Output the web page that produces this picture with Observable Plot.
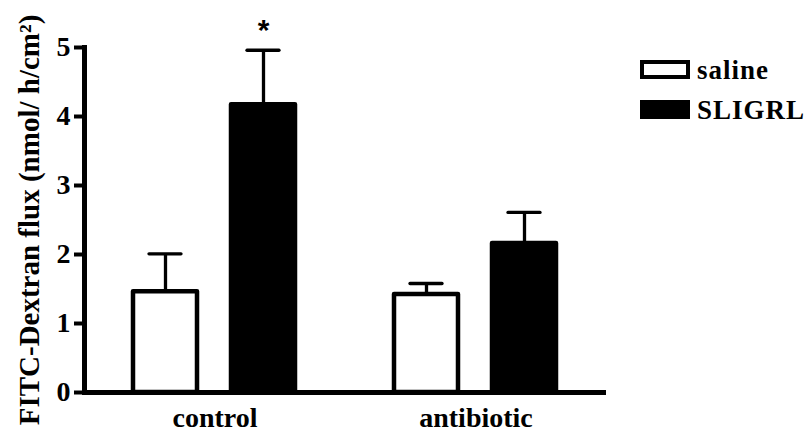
<!DOCTYPE html>
<html><head><meta charset="utf-8">
<script src="https://cdn.jsdelivr.net/npm/d3@7"></script>
<script src="https://cdn.jsdelivr.net/npm/@observablehq/plot@0.6"></script>
<style>
body{margin:0;background:#fff;}
#wrap{position:relative;width:807px;height:432px;}
#legend{position:absolute;left:640px;top:50px;font-family:"Liberation Serif","Times New Roman",serif;font-weight:bold;font-size:27px;color:#000;}
#legend .row{line-height:40px;height:40px;white-space:nowrap;letter-spacing:1px;}
#legend .sw{display:inline-block;width:50px;height:19px;box-sizing:border-box;border:4px solid #000;margin-right:7px;}
</style></head>
<body><div id="wrap"></div>
<script>
const groups = ["control", "antibiotic"];
const treatments = ["saline", "SLIGRL"];
const fills = ["white", "black"];
const controlMeans = [1.46, 4.17];
const antibioticMeans = [1.42, 2.16];
const controlErr = [0.55, 0.79];
const antibioticErr = [0.16, 0.45];
const yTicks = [0, 1, 2, 3, 4, 5];
const yLabel = "FITC-Dextran flux (nmol/ h/cm²)";
const significance = [{group: "control", treatment: "SLIGRL", label: "*"}];

const meansByGroup = [controlMeans, antibioticMeans];
const errByGroup = [controlErr, antibioticErr];
const data = [];
groups.forEach((g, gi) => treatments.forEach((t, ti) => data.push({group: g, treatment: t, value: meansByGroup[gi][ti], err: errByGroup[gi][ti]})));
const topOf = (g, t) => { const d = data.find(e => e.group === g && e.treatment === t); return d.value + d.err; };

const chart = Plot.plot({
  width: 807, height: 432,
  marginLeft: 84, marginRight: 201, marginTop: 47, marginBottom: 40,
  style: {fontFamily: '"Liberation Serif","Times New Roman",serif', color: "black", background: "white"},
  fx: {domain: groups, padding: 0, label: null},
  x: {domain: treatments, paddingInner: 0.342, paddingOuter: 0.5025, axis: null},
  y: {domain: [0, 5]},
  color: {domain: treatments, range: fills},
  marks: [
    Plot.ruleX(data, {fx: "group", x: "treatment", y1: "value", y2: d => d.value + d.err, stroke: "black", strokeWidth: 3.3}),
    Plot.tickY(data, {fx: "group", x: "treatment", y: d => d.value + d.err, stroke: "black", strokeWidth: 3.3, insetLeft: 16, insetRight: 16, strokeLinecap: "round"}),
    Plot.barY(data, {fx: "group", x: "treatment", y: "value", fill: "treatment", stroke: "black", strokeWidth: 4.5, strokeLinejoin: "round"}),
    Plot.text(significance, {fx: "group", x: "treatment", y: d => topOf(d.group, d.treatment), text: "label", dy: -20, fontSize: 30, fontWeight: "bold", fontFamily: '"Liberation Sans", Arial, sans-serif', fill: "black"}),
    Plot.ruleY([0], {stroke: "black", strokeWidth: 5}),
    Plot.frame({anchor: "left", stroke: "black", strokeWidth: 5, fx: () => "control"}),
    Plot.axisY({ticks: yTicks, tickFormat: d => String(d), tickSize: 10, tickPadding: 4, strokeWidth: 4, fontSize: 28, fontWeight: "bold", fill: "black", label: null}),
    Plot.axisY({ticks: [], tickSize: 0, fontSize: 29, fontWeight: "bold", fill: "black", label: yLabel, labelAnchor: "center", labelOffset: 66, labelArrow: "none"}),
    Plot.axisFx({anchor: "bottom", tickSize: 0, tickPadding: 15, fontSize: 28, fontWeight: "bold", fill: "black", label: null})
  ]
});
const wrap = document.getElementById("wrap");
wrap.appendChild(chart);

const legend = document.createElement("div");
legend.id = "legend";
treatments.forEach((t, i) => {
  const row = document.createElement("div");
  row.className = "row";
  const sw = document.createElement("span");
  sw.className = "sw";
  sw.style.background = fills[i];
  row.appendChild(sw);
  row.appendChild(document.createTextNode(t));
  legend.appendChild(row);
});
wrap.appendChild(legend);
</script>
</body></html>
